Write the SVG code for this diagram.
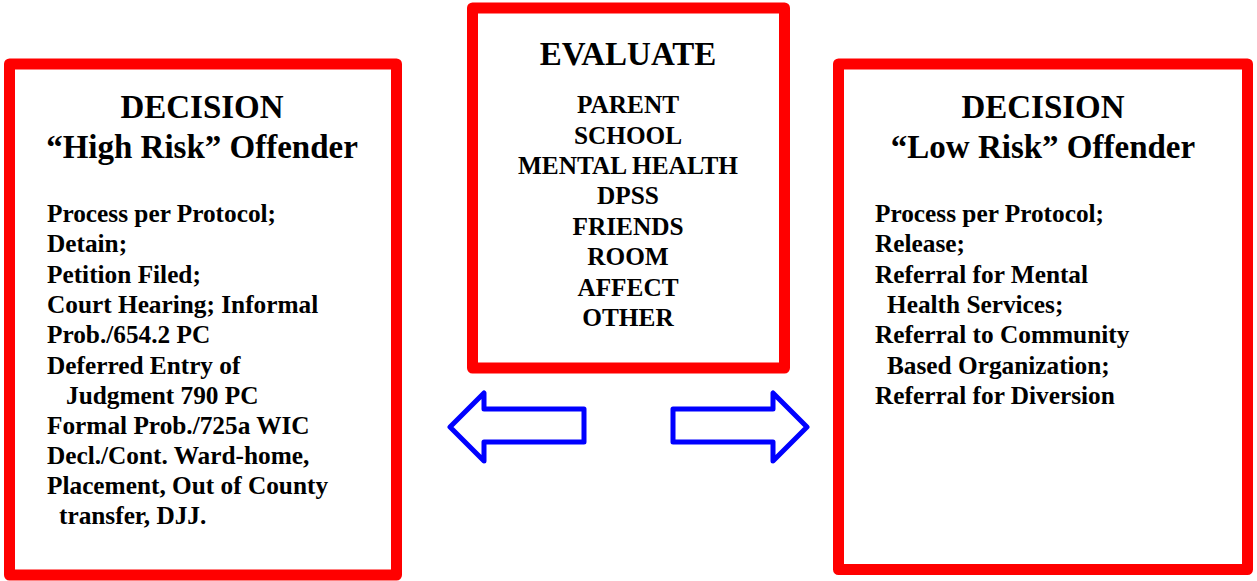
<svg xmlns="http://www.w3.org/2000/svg" width="1257" height="581" viewBox="0 0 1257 581">
<style>
.box{fill:#fff;stroke:#ff0000;stroke-width:11;stroke-linejoin:round}
.arr{fill:#fff;stroke:#0000ff;stroke-width:5;stroke-linejoin:round}
text{font-family:"Liberation Serif","Times New Roman",serif;font-weight:bold;fill:#000}
.t{font-size:33px;text-anchor:middle}
.b{font-size:25.3px}
.e{font-size:25.3px;text-anchor:middle}
</style>
<rect width="1257" height="581" fill="#fff"/>
<g id="high-risk">
<rect class="box" x="9.5" y="64" width="387" height="511"/>
<text class="t" x="202" y="118">DECISION</text>
<text class="t" x="202" y="158">“High Risk” Offender</text>
<text class="b" x="47" y="222">Process per Protocol;</text>
<text class="b" x="47" y="252">Detain;</text>
<text class="b" x="47" y="283">Petition Filed;</text>
<text class="b" x="47" y="313">Court Hearing; Informal</text>
<text class="b" x="47" y="343">Prob./654.2 PC</text>
<text class="b" x="47" y="374">Deferred Entry of</text>
<text class="b" x="66" y="404">Judgment 790 PC</text>
<text class="b" x="47" y="434">Formal Prob./725a WIC</text>
<text class="b" x="47" y="464">Decl./Cont. Ward-home,</text>
<text class="b" x="47" y="494">Placement, Out of County</text>
<text class="b" x="59" y="524">transfer, DJJ.</text>
</g>
<g id="evaluate">
<rect class="box" x="472.5" y="8" width="312" height="360"/>
<text class="t" x="628" y="65">EVALUATE</text>
<text class="e" x="628" y="113">PARENT</text>
<text class="e" x="628" y="144">SCHOOL</text>
<text class="e" x="628" y="174">MENTAL HEALTH</text>
<text class="e" x="628" y="204">DPSS</text>
<text class="e" x="628" y="235">FRIENDS</text>
<text class="e" x="628" y="265">ROOM</text>
<text class="e" x="628" y="296">AFFECT</text>
<text class="e" x="628" y="326">OTHER</text>
</g>
<g id="low-risk">
<rect class="box" x="838.5" y="64" width="409" height="505.5"/>
<text class="t" x="1043" y="118">DECISION</text>
<text class="t" x="1043" y="158">“Low Risk” Offender</text>
<text class="b" x="875" y="222">Process per Protocol;</text>
<text class="b" x="875" y="252">Release;</text>
<text class="b" x="875" y="283">Referral for Mental</text>
<text class="b" x="887" y="313">Health Services;</text>
<text class="b" x="875" y="343">Referral to Community</text>
<text class="b" x="887" y="374">Based Organization;</text>
<text class="b" x="875" y="404">Referral for Diversion</text>
</g>
<g id="connectors">
<polygon class="arr" points="450,427 484,393 484,409 584,409 584,442 484,442 484,461"/>
<polygon class="arr" points="807,427 773,393 773,409 673,409 673,442 773,442 773,461"/>
</g>
</svg>
